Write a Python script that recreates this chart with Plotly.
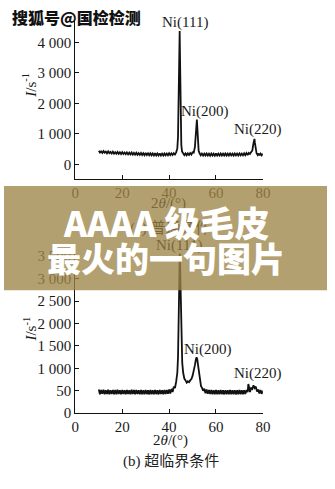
import plotly.graph_objects as go

W, H = 335, 489

# ---------------- data ----------------
pattern_a = [(10,440),(10.5,385),(11,425),(11.5,372),(12,430),(12.5,380),(13,415),(13.5,360),(14,420),(14.5,365),
 (15,405),(15.5,352),(16,410),(16.5,350),(17,398),(17.5,345),(18,402),(18.5,340),(19,392),(19.5,335),(20,398),
 (20.5,338),(21,385),(21.5,330),(22,390),(22.5,325),(23,380),(23.5,322),(24,385),(24.5,318),(25,372),(25.5,315),
 (26,378),(26.5,312),(27,368),(27.5,308),(28,372),(28.5,305),(29,362),(29.5,300),(30,368),(30.5,302),(31,358),
 (31.5,298),(32,362),(32.5,295),(33,355),(33.5,292),(34,360),(34.5,290),(35,352),(35.5,290),(36,358),(36.5,288),
 (37,350),(37.5,290),(38,355),(38.5,292),(39,350),(39.5,295),(40,360),(40.5,300),(41,358),(41.5,305),(42,365),
 (42.5,320),(43,390),(43.5,520),(43.8,900),(44.1,2600),(44.35,4100),(44.5,4370),(44.65,3500),(44.9,1500),
 (45.2,640),(45.5,420),(46,370),(46.5,300),(47,355),(47.5,295),(48,358),(48.5,305),(49,370),(49.5,320),(50,390),
 (50.5,380),(51,560),(51.4,1000),(51.7,1400),(51.85,1470),(52,1250),(52.3,700),(52.6,440),(53,360),(53.5,295),
 (54,350),(54.5,288),(55,348),(55.5,285),(56,350),(56.5,288),(57,345),(57.5,282),(58,350),(58.5,285),(59,346),
 (59.5,283),(60,352),(60.5,286),(61,345),(61.5,284),(62,350),(62.5,287),(63,346),(63.5,285),(64,352),(64.5,288),
 (65,348),(65.5,286),(66,352),(66.5,290),(67,348),(67.5,288),(68,354),(68.5,292),(69,350),(69.5,290),(70,356),
 (70.5,294),(71,352),(71.5,292),(72,360),(72.5,298),(73,365),(73.5,300),(74,370),(74.5,340),(75,400),(75.5,450),
 (75.9,650),(76.2,800),(76.4,830),(76.6,700),(76.9,480),(77.3,360),(77.8,300),(78.2,352),(78.6,290),(79,348),
 (79.5,292),(80,345)]

pattern_b = [(10,525),(10.5,420),(11,515),(11.5,430),(12,520),(12.5,418),(13,512),(13.5,425),(14,522),(14.5,420),
 (15,510),(15.5,428),(16,518),(16.5,422),(17,515),(17.5,418),(18,520),(18.5,425),(19,512),(19.5,420),(20,518),
 (20.5,428),(21,510),(21.5,420),(22,516),(22.5,425),(23,512),(23.5,418),(24,520),(24.5,424),(25,514),(25.5,420),
 (26,518),(26.5,426),(27,512),(27.5,418),(28,516),(28.5,422),(29,510),(29.5,420),(30,514),(30.5,424),(31,508),
 (31.5,418),(32,515),(32.5,422),(33,510),(33.5,420),(34,514),(34.5,424),(35,508),(35.5,418),(36,515),(36.5,425),
 (37,510),(37.5,420),(38,516),(38.5,428),(39,515),(39.5,430),(40,525),(40.5,440),(41,540),(41.5,470),(42,590),
 (42.5,560),(43,700),(43.5,900),(43.8,1250),(44.1,2100),(44.35,3100),(44.55,3560),(44.75,3150),(45,2250),
 (45.3,1500),(45.6,1120),(46,900),(46.5,770),(47,730),(47.5,680),(48,710),(48.5,690),(49,730),(49.5,760),
 (50,830),(50.5,930),(51,1070),(51.4,1190),(51.7,1245),(52,1200),(52.4,1020),(52.8,820),(53.2,670),(53.6,600),
 (54,570),(54.5,500),(55,545),(55.5,445),(56,525),(56.5,430),(57,518),(57.5,425),(58,515),(58.5,420),(59,512),
 (59.5,422),(60,515),(60.5,418),(61,510),(61.5,420),(62,514),(62.5,424),(63,508),(63.5,418),(64,512),(64.5,420),
 (65,510),(65.5,418),(66,514),(66.5,422),(67,508),(67.5,420),(68,512),(68.5,418),(69,510),(69.5,420),(70,514),
 (70.5,422),(71,508),(71.5,420),(72,512),(72.5,425),(73,515),(73.5,470),(73.8,650),(74.1,520),(74.5,470),
 (75,560),(75.5,540),(76,620),(76.5,560),(77,590),(77.5,480),(78,525),(78.5,440),(79,515),(79.5,430),(80,500)]

x_ticks = [0, 20, 40, 60, 80]
y_ticks_a = [0, 1000, 2000, 3000, 4000]
y_labels_a = ["0", "1 000", "2 000", "3 000", "4 000"]
y_ticks_b = [0, 500, 1000, 1500, 2000, 2500, 3000, 3500]
y_labels_b = ["0", "50", "1 000", "1 500", "2 000", "2 500", "3 000", "3 500"]

peak_labels = ["Ni(111)", "Ni(200)", "Ni(220)"]

xa = [p[0] for p in pattern_a]; ya = [p[1] for p in pattern_a]
xb = [p[0] for p in pattern_b]; yb = [p[1] for p in pattern_b]

# ---------------- figure ----------------
SERIF = "Liberation Serif, DejaVu Serif, serif"
CJK = "Liberation Serif, Noto Sans CJK SC, serif"
TXT = "#1a1a1a"
HIDDEN = "#7a663b"   # text seen through the translucent banner

def px(x):
    return x / W
def py(y):
    return 1 - y / H

fig = go.Figure()
fig.add_trace(go.Scatter(x=xa, y=ya, mode="lines", line=dict(color="#111", width=1.8),
                         xaxis="x", yaxis="y", hoverinfo="skip"))
fig.add_trace(go.Scatter(x=xb, y=yb, mode="lines", line=dict(color="#111", width=1.8),
                         xaxis="x2", yaxis="y2", hoverinfo="skip"))

axis_common = dict(showgrid=False, zeroline=False, showline=True, linecolor="#111", linewidth=1,
                   ticks="inside", ticklen=4, tickwidth=1, tickcolor="#111",
                   tickfont=dict(family=SERIF, size=15, color=TXT))

fig.update_layout(
    width=W, height=H, margin=dict(l=0, r=0, t=0, b=0),
    paper_bgcolor="white", plot_bgcolor="white", showlegend=False,
    xaxis=dict(domain=[74/W, 268.5/W], range=[0, 80], tickvals=x_ticks, anchor="y", **axis_common),
    yaxis=dict(domain=[py(182), py(20)], range=[-484, 4742], tickvals=y_ticks_a, ticktext=y_labels_a,
               anchor="x", **axis_common),
    xaxis2=dict(domain=[74/W, 268.5/W], range=[0, 80], tickvals=x_ticks, anchor="y2", **axis_common),
    yaxis2=dict(domain=[py(420), py(251.3)], range=[0, 3700], tickvals=y_ticks_b, ticktext=y_labels_b,
                anchor="x2", **axis_common),
)

# translucent banner
fig.add_shape(type="rect", xref="paper", yref="paper", x0=0, x1=1, y0=py(295), y1=py(189),
              fillcolor="rgba(158,133,72,0.78)", line=dict(width=0), layer="above")

def ann(text, x, y, size=14, color=TXT, family=SERIF, angle=0, weight="normal"):
    fig.add_annotation(text=text, xref="paper", yref="paper", x=px(x), y=py(y),
                       xanchor="center", yanchor="middle", showarrow=False, textangle=angle,
                       font=dict(family=family, size=size, color=color, weight=weight))

# peak labels
ann(peak_labels[0], 188, 22.5, size=15)
ann(peak_labels[1], 208, 113, size=15)
ann(peak_labels[2], 263, 132, size=15)
ann(peak_labels[0], 182, 250, size=15, color=HIDDEN)
ann(peak_labels[1], 212, 355, size=15)
ann(peak_labels[2], 263, 380, size=15)

# axis titles
ann("<i>I</i>/s<sup>-1</sup>", 26, 87, size=15, angle=-90)
ann("<i>I</i>/s<sup>-1</sup>", 26, 335, size=15, angle=-90)
ann("2<i>θ</i>/(°)", 171, 207, size=15, color=HIDDEN)
ann("2<i>θ</i>/(°)", 173, 448, size=15)

# captions
ann("(a) 普通条件", 172, 232, size=15, family=CJK, color=HIDDEN)
ann("(b) 超临界条件", 173, 469, family=CJK, size=15, color="#222")

# watermark
ann("搜狐号@国检检测", 75, 17, size=16, family="Noto Sans CJK SC", color="#111", weight=900)

# banner text
ann("AAAA 级毛皮", 167.5, 225, size=35, family="Noto Sans CJK SC", color="white", weight=900)
ann("最火的一句图片", 168.5, 262, size=34, family="Noto Sans CJK SC", color="white", weight=900)

fig.write_html("out.html")
